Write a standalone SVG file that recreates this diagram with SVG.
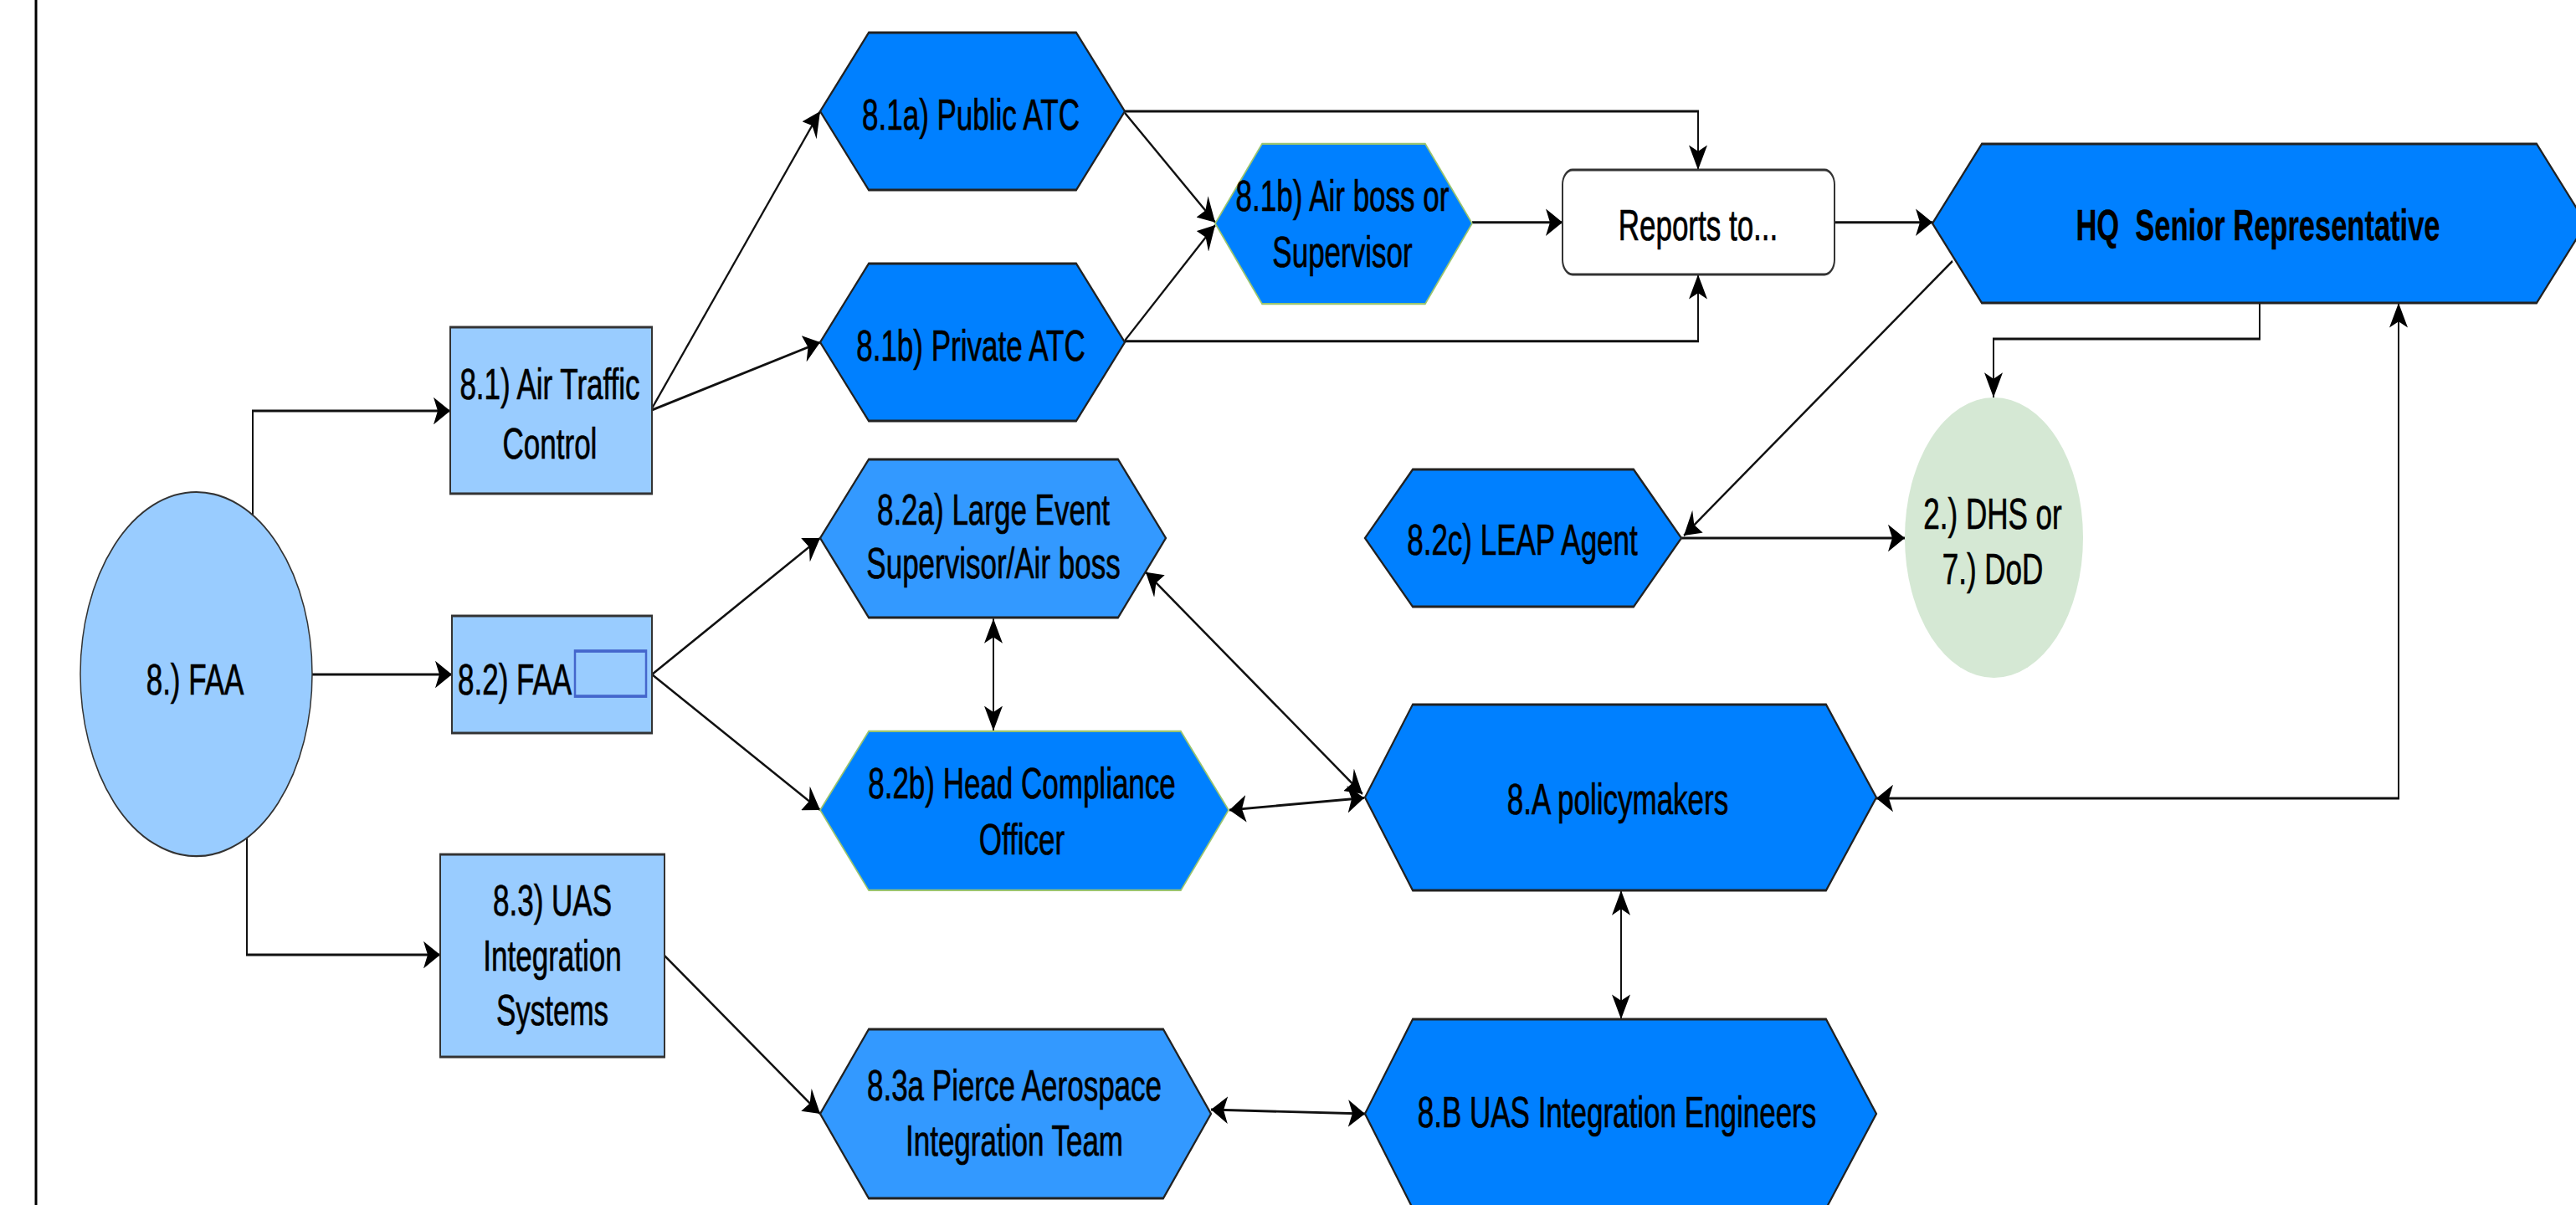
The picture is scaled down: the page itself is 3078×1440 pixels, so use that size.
<svg xmlns="http://www.w3.org/2000/svg" width="3078" height="1440" viewBox="0 0 3078 1440">
<style>
.t{font-family:"Liberation Sans",Arial,sans-serif;font-size:35px;fill:#000;stroke:#000;stroke-width:0.5;text-anchor:middle}
.box{fill:#99CCFF;stroke:#333;stroke-width:2}
.hex{fill:#0080FF;stroke:#222;stroke-width:2}
.hexl{fill:#3399FF;stroke:#222;stroke-width:2}
.hexg{fill:#0080FF;stroke:#9AC46F;stroke-width:1.5}
.c{fill:none;stroke:#111;stroke-width:2}
</style>
<defs>
<marker id="a" viewBox="0 0 20 22" markerWidth="20" markerHeight="22" refX="20" refY="11" orient="auto-start-reverse" markerUnits="userSpaceOnUse">
<path d="M0,0 L20,11 L0,22 L5,11 Z" fill="#000"/>
</marker>
</defs>
<rect x="0" y="0" width="3078" height="1440" fill="#fff"/>
<line x1="43" y1="0" x2="43" y2="1440" stroke="#000" stroke-width="3"/>
<g transform="scale(1,1.48)">
<g id="connectors">
<path class="c" d="M302,415.9 V331.8 H538" marker-end="url(#a)"/>
<path class="c" d="M373,544.6 H540" marker-end="url(#a)"/>
<path class="c" d="M295,676.4 V771 H526" marker-end="url(#a)"/>
<path class="c" d="M779,329.7 L980,89.9" marker-end="url(#a)"/>
<path class="c" d="M779,331.1 L980,276.4" marker-end="url(#a)"/>
<path class="c" d="M1344,91.2 L1452,179.5" marker-end="url(#a)"/>
<path class="c" d="M1344,275 L1452,181.8" marker-end="url(#a)"/>
<path class="c" d="M1344,89.9 H2029 V137.2" marker-end="url(#a)"/>
<path class="c" d="M1344,275.5 H2029 V221.6" marker-end="url(#a)"/>
<path class="c" d="M1759,179.5 H1867" marker-end="url(#a)"/>
<path class="c" d="M2192,179.5 H2309" marker-end="url(#a)"/>
<path class="c" d="M2700,244.6 V273.6 H2382 V320.9" marker-end="url(#a)"/>
<path class="c" d="M2333,210.8 L2012,432.4" marker-end="url(#a)"/>
<path class="c" d="M2009,434.5 H2276" marker-end="url(#a)"/>
<path class="c" d="M2242,644.6 H2866 V244.6" marker-start="url(#a)" marker-end="url(#a)"/>
<path class="c" d="M779,544.6 L980,434.5" marker-end="url(#a)"/>
<path class="c" d="M779,544.6 L980,654.1" marker-end="url(#a)"/>
<path class="c" d="M1187,499.5 V590" marker-start="url(#a)" marker-end="url(#a)"/>
<path class="c" d="M1369,462 L1628,641" marker-start="url(#a)" marker-end="url(#a)"/>
<path class="c" d="M1469,654.1 L1630,644.2" marker-start="url(#a)" marker-end="url(#a)"/>
<path class="c" d="M1937,719 V823" marker-start="url(#a)" marker-end="url(#a)"/>
<path class="c" d="M794,771.6 L980,899.3" marker-end="url(#a)"/>
<path class="c" d="M1447,896 L1631,899.3" marker-start="url(#a)" marker-end="url(#a)"/>
</g>
<g id="faa">
<ellipse cx="234.5" cy="544.3" rx="138.5" ry="147" fill="#99CCFF" stroke="#333" stroke-width="1.5"/>
<text class="t" x="233" y="560.8">8.) FAA</text>
</g>
<g id="n81">
<rect class="box" x="538" y="264.2" width="241" height="134.4"/>
<text class="t" x="657" y="322.1">8.1) Air Traffic</text>
<text class="t" x="657" y="370.3">Control</text>
</g>
<g id="n82">
<rect class="box" x="540" y="497.3" width="239" height="94.6"/>
<text class="t" x="547" y="560.8" style="text-anchor:start">8.2) FAA</text>
<rect x="687" y="525.7" width="85" height="36.5" fill="none" stroke="#4466CC" stroke-width="2.5"/>
</g>
<g id="n83">
<rect class="box" x="526" y="689.9" width="268" height="163.5"/>
<text class="t" x="660" y="739.2">8.3) UAS</text>
<text class="t" x="660" y="783.8">Integration</text>
<text class="t" x="660" y="827.7">Systems</text>
</g>
<g id="n81a">
<polygon class="hex" points="980,89.9 1038,26.4 1286,26.4 1344,89.9 1286,153.4 1038,153.4"/>
<text class="t" x="1160" y="104.5">8.1a) Public ATC</text>
</g>
<g id="n81b">
<polygon class="hex" points="980,276.4 1038,212.8 1286,212.8 1344,276.4 1286,339.9 1038,339.9"/>
<text class="t" x="1160" y="291.2">8.1b) Private ATC</text>
</g>
<g id="airboss">
<polygon class="hexg" points="1452,180.4 1508,116.2 1703,116.2 1759,180.4 1703,245.3 1508,245.3"/>
<text class="t" x="1604" y="170.3">8.1b) Air boss or</text>
<text class="t" x="1604" y="215.5">Supervisor</text>
</g>
<g id="reports">
<rect x="1867" y="137.2" width="325" height="84.4" rx="12" ry="12" fill="#fff" stroke="#333" stroke-width="2"/>
<text class="t" x="2029" y="193.9">Reports to...</text>
</g>
<g id="hq">
<polygon class="hex" points="2309,180.4 2368,116.2 3031,116.2 3090,180.4 3031,244.6 2368,244.6"/>
<text class="t" x="2698" y="193.9" xml:space="preserve" style="font-size:34.5px;font-weight:bold;stroke-width:0.2">HQ  Senior Representative</text>
</g>
<g id="dhs">
<ellipse cx="2382.5" cy="434.1" rx="106.5" ry="113.2" fill="#D5E8D4"/>
<text class="t" x="2381" y="427">2.) DHS or</text>
<text class="t" x="2381" y="471.6">7.) DoD</text>
</g>
<g id="n82a">
<polygon class="hexl" points="980,434.5 1038,370.9 1336,370.9 1393,434.5 1336,498.6 1038,498.6"/>
<text class="t" x="1187" y="423.6">8.2a) Large Event</text>
<text class="t" x="1187" y="466.9">Supervisor/Air boss</text>
</g>
<g id="n82c">
<polygon class="hex" points="1631,434.5 1688,379.1 1952,379.1 2009,434.5 1952,489.9 1688,489.9"/>
<text class="t" x="1819" y="448">8.2c) LEAP Agent</text>
</g>
<g id="n82b">
<polygon class="hexg" points="980,654.1 1038,590.5 1411,590.5 1468,654.1 1411,718.9 1038,718.9"/>
<text class="t" x="1221" y="644.6">8.2b) Head Compliance</text>
<text class="t" x="1221" y="689.9">Officer</text>
</g>
<g id="n8a">
<polygon class="hex" points="1631,643.9 1688,568.9 2182,568.9 2242,643.9 2182,718.9 1688,718.9"/>
<text class="t" x="1933" y="657.1">8.A policymakers</text>
</g>
<g id="n8b">
<polygon class="hex" points="1631,899.3 1688,823 2182,823 2242,899.3 2182,975.7 1688,975.7"/>
<text class="t" x="1932" y="910.1">8.B UAS Integration Engineers</text>
</g>
<g id="n83a">
<polygon class="hexl" points="980,899.3 1038,831.1 1390,831.1 1447,899.3 1390,967.6 1038,967.6"/>
<text class="t" x="1212" y="888.2">8.3a Pierce Aerospace</text>
<text class="t" x="1212" y="933.1">Integration Team</text>
</g>
</g>
</svg>
